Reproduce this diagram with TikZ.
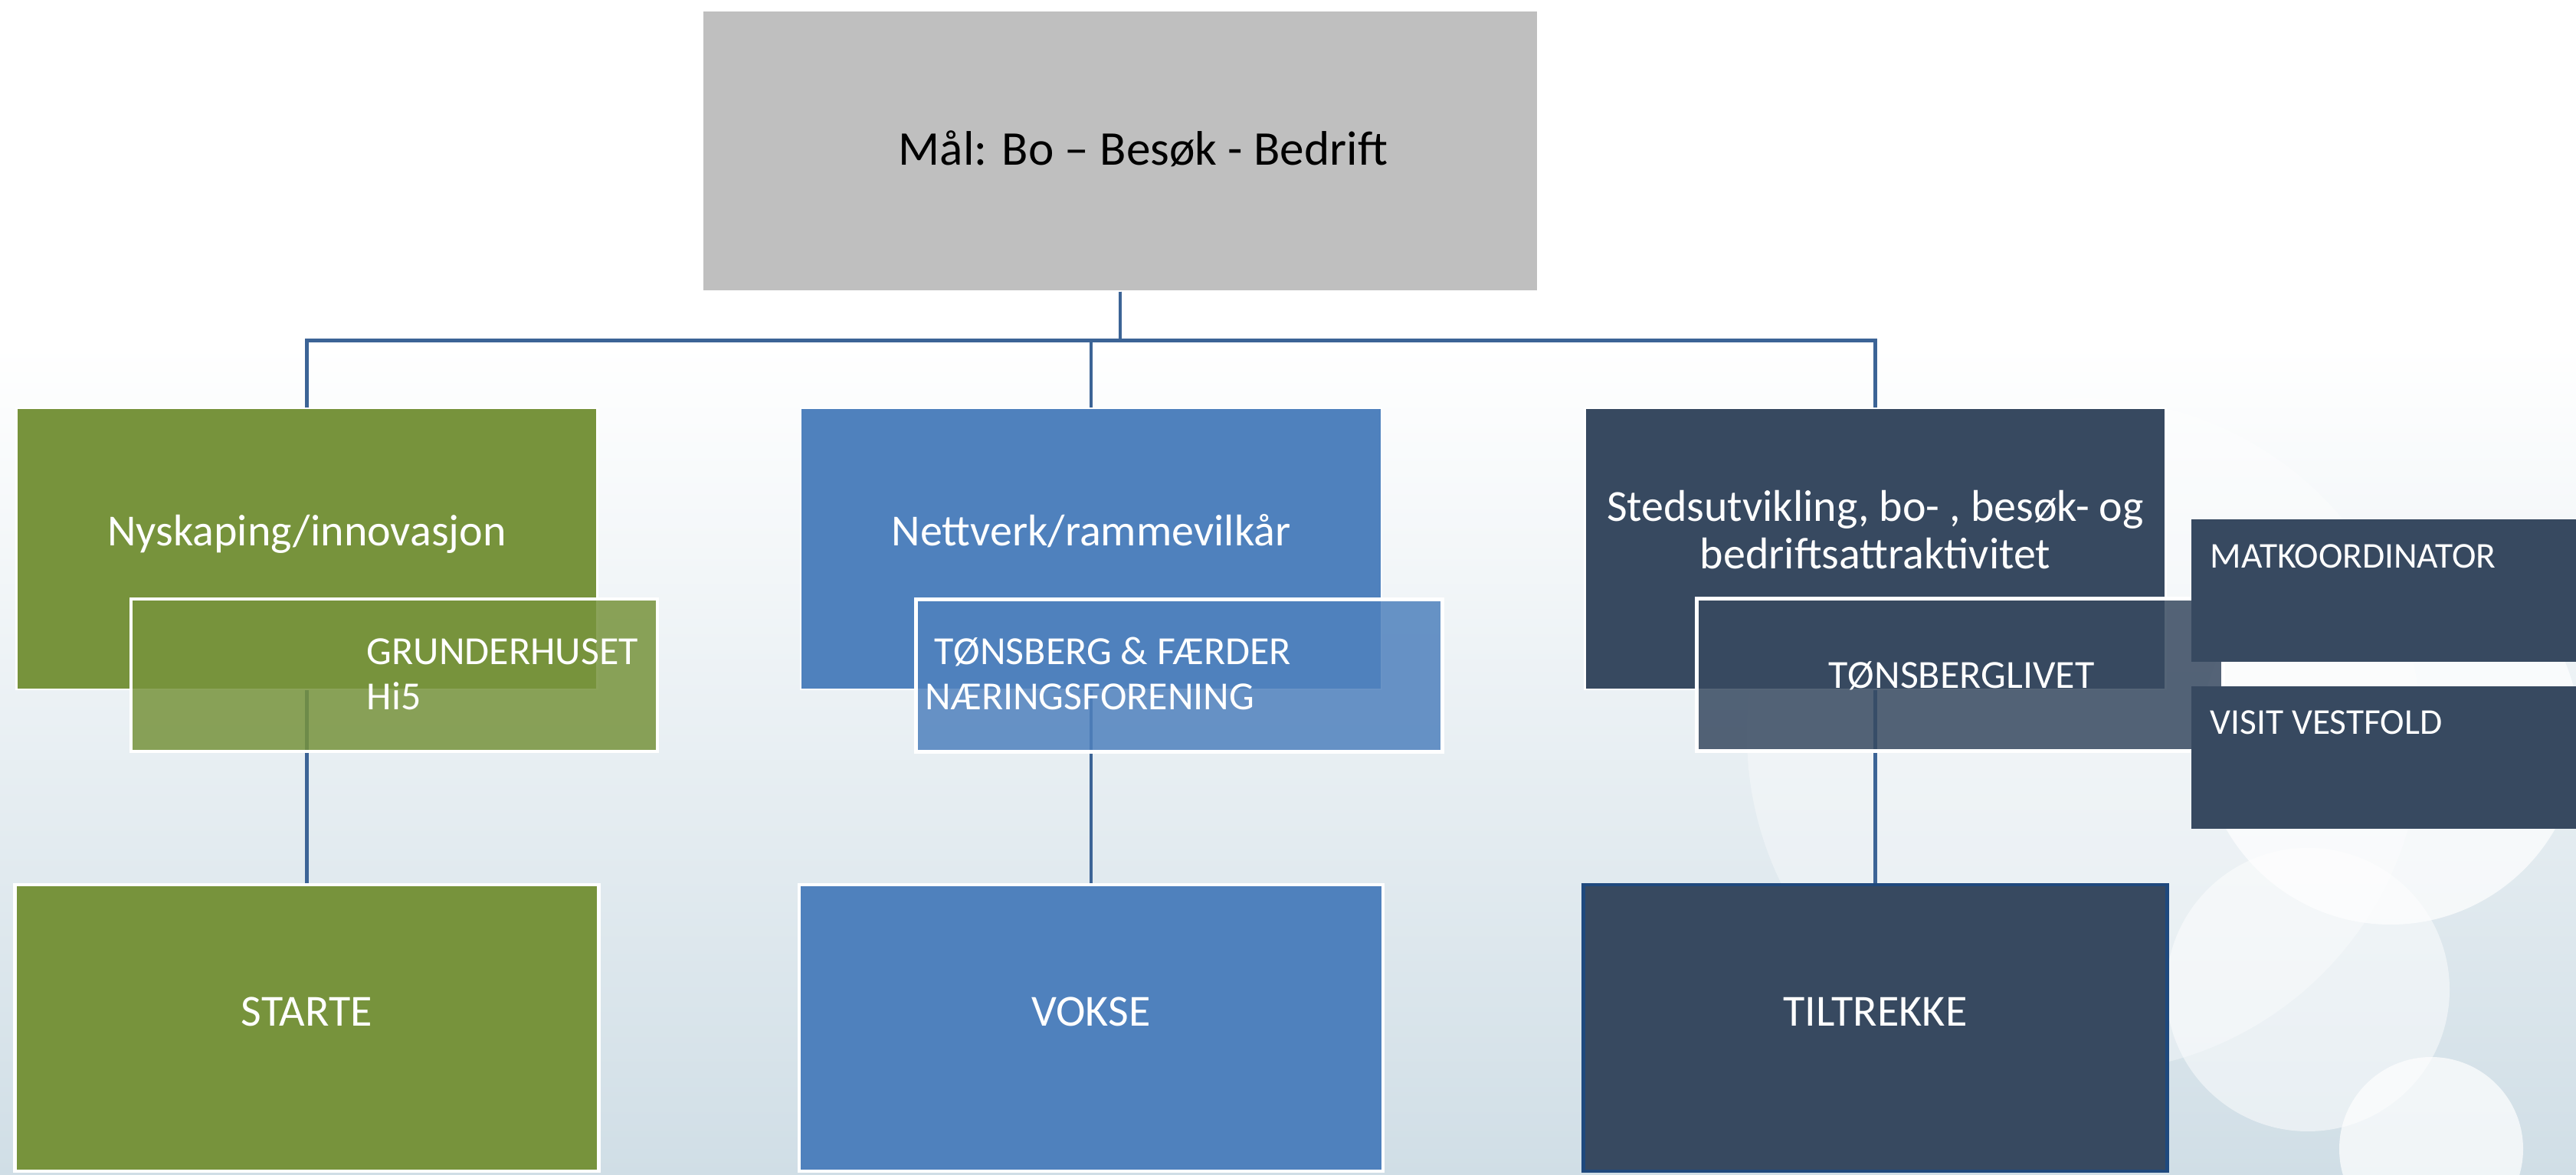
\documentclass[tikz,border=0pt]{standalone}
\usepackage{fontspec}
\setmainfont{Carlito}
\usetikzlibrary{positioning}
\definecolor{goalgray}{RGB}{191,191,191}
\definecolor{grn}{RGB}{119,147,60}
\definecolor{blu}{RGB}{79,129,189}
\definecolor{drk}{RGB}{55,73,96}
\definecolor{linkblue}{RGB}{60,100,150}
\definecolor{framblue}{RGB}{31,73,125}
\definecolor{bgbot}{RGB}{208,222,230}
\tikzstyle{goalbox} = [rectangle, minimum width=10.9cm, minimum height=3.66cm, fill=goalgray, draw=white, line width=0.4pt]
\tikzstyle{lvltwo} = [rectangle, minimum width=7.58cm, minimum height=3.67cm, draw=white, line width=0.6pt]
\tikzstyle{lvlthree} = [rectangle, minimum width=7.62cm, minimum height=3.74cm, draw=white, line width=1.2pt]
\tikzstyle{subbox} = [rectangle, minimum width=6.87cm, minimum height=1.99cm, draw=white, line width=1.2pt, fill opacity=0.85]
\tikzstyle{sidebox} = [rectangle, minimum width=5.02cm, minimum height=1.86cm, fill=drk]
\tikzstyle{goaltxt} = [inner sep=0pt, font=\fontsize{18}{22}\selectfont, text=black]
\tikzstyle{bigtxt} = [inner sep=0pt, font=\fontsize{16.5}{17.9}\selectfont, text=white, align=center]
\tikzstyle{subtxt} = [inner sep=0pt, font=\fontsize{14.8}{16.8}\selectfont, text=white, align=left]
\tikzstyle{sidetxt} = [inner sep=0pt, font=\fontsize{13.5}{16}\selectfont, text=white]
\tikzstyle{link} = [line width=1.25pt, draw=linkblue]

\begin{document}
\begin{tikzpicture}[node distance=10.235cm]
\useasboundingbox (0,0) rectangle (33.62,-15.34);
\clip (0,0) rectangle (33.62,-15.34);
% background
\fill[white] (0,0) rectangle (33.62,-15.34);
\shade[top color=white, bottom color=bgbot] (0,-4.5) rectangle (33.62,-15.34);
\fill[white, opacity=0.35] (27.2,-9.6) circle (4.4cm);
\fill[white, opacity=0.5] (30.12,-12.92) circle (1.85cm);
\fill[white, opacity=0.7] (31.2,-9.6) circle (2.47cm);
\fill[white, opacity=0.7] (31.73,-15.0) circle (1.2cm);

\node (goal) [goalbox] at (14.62,-1.97) {};
\node (nett) [lvltwo, fill=blu, below of=goal, xshift=-0.38cm, yshift=5.04cm] {};
\node (nys) [lvltwo, fill=grn, left of=nett] {};
\node (sted) [lvltwo, fill=drk, right of=nett] {};

\node (starte) [lvlthree, fill=grn, below of=nys, yshift=3.98cm] {};
\node (vokse) [lvlthree, fill=blu, below of=nett, yshift=3.98cm] {};
\node (tilt) [lvlthree, fill=drk, draw=framblue, below of=sted, yshift=3.98cm] {};

\draw [link] (goal.south) -- ++(0,-0.64) -| (nys.north);
\draw [link] (goal.south) -- ++(0,-0.64) -| (nett.north);
\draw [link] (goal.south) -- ++(0,-0.64) -| (sted.north);
\draw [link] (nys) -- (starte);
\draw [link] (nett) -- (vokse);
\draw [link] (sted) -- (tilt);

\node (grund) [subbox, fill=grn, below of=nys, xshift=1.14cm, yshift=8.585cm] {};
\node (tnf) [subbox, fill=blu, below of=nett, xshift=1.15cm, yshift=8.58cm] {};
\node (tliv) [subbox, fill=drk, below of=sted, xshift=1.105cm, yshift=8.59cm] {};
\node (mat) [sidebox, right of=sted, xshift=-3.6cm, yshift=-0.545cm] {};
\node (visit) [sidebox, below of=mat, yshift=8.055cm] {};

% texts
\node (goalTxt) [goaltxt, anchor=base] at ([xshift=0.3cm, yshift=-0.19cm]goal.center) {Mål: Bo – Besøk - Bedrift};
\node (nysTxt) [bigtxt, anchor=base] at ([yshift=0.035cm]nys.center) {Nyskaping/innovasjon};
\node (nettTxt) [bigtxt, anchor=base] at ([yshift=0.035cm]nett.center) {Nettverk/rammevilkår};
\node (stedTxt) [bigtxt, anchor=base] at ([yshift=-0.265cm]sted.center) {Stedsutvikling, bo- , besøk- og\\bedriftsattraktivitet};
\node (startTxt) [bigtxt, anchor=base] at ([yshift=0.03cm]starte.center) {STARTE};
\node (vokseTxt) [bigtxt, anchor=base] at ([yshift=0.03cm]vokse.center) {VOKSE};
\node (tiltTxt) [bigtxt, anchor=base] at ([yshift=0.03cm]tilt.center) {TILTREKKE};
\node (grundTxt) [subtxt, anchor=base west] at ([xshift=-0.365cm, yshift=-0.455cm]grund.center) {GRUNDERHUSET\\Hi5};
\node (tnfTxt) [subtxt, anchor=base west] at ([xshift=-3.32cm, yshift=-0.445cm]tnf.center) {\ TØNSBERG \& FÆRDER\\NÆRINGSFORENING};
\node (tlivTxt) [subtxt, anchor=base] at ([xshift=0.02cm, yshift=-0.175cm]tliv.center) {TØNSBERGLIVET};
\node (matTxt) [sidetxt, anchor=base west] at ([xshift=-2.27cm, yshift=0.29cm]mat.center) {MATKOORDINATOR};
\node (visitTxt) [sidetxt, anchor=base west] at ([xshift=-2.27cm, yshift=0.30cm]visit.center) {VISIT VESTFOLD};
\end{tikzpicture}
\end{document}
